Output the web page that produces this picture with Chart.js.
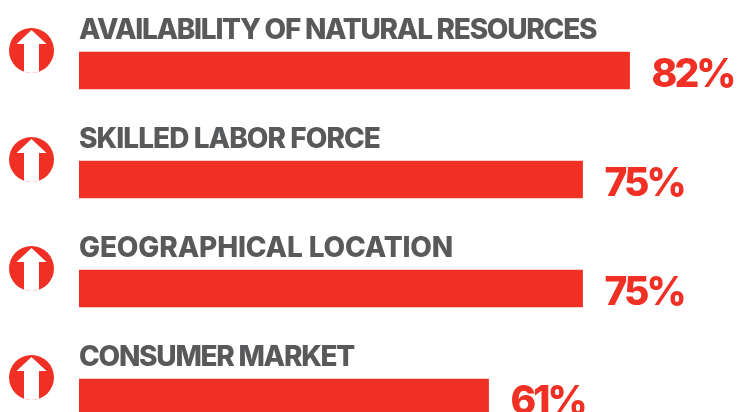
<!DOCTYPE html>
<html><head><meta charset="utf-8">
<style>html,body{margin:0;padding:0;background:#fff;overflow:hidden}#w{width:737px;height:412px;overflow:hidden}canvas{display:block}</style>
<script src="https://cdn.jsdelivr.net/npm/chart.js@4"></script></head>
<body><div id="w"><canvas id="c" width="737" height="452"></canvas></div>
<script>
const categories = ["AVAILABILITY OF NATURAL RESOURCES","SKILLED LABOR FORCE","GEOGRAPHICAL LOCATION","CONSUMER MARKET"];
const values = [82,75,75,61];
const labelSpacing = ["-1.27px","-0.95px","-0.15px","-1.27px"];
const RED = "#F03024", GREY = "#58595B";
const overlay = {
  id:"overlay",
  afterDatasetsDraw(chart){
    const {ctx,scales:{x,y}} = chart;
    ctx.save();
    ctx.textAlign="left"; ctx.textBaseline="alphabetic";
    categories.forEach((cat,i)=>{
      const cy = y.getPixelForValue(i), end = x.getPixelForValue(values[i]);
      ctx.fillStyle=GREY; ctx.font='800 28px "Inter"'; ctx.letterSpacing=labelSpacing[i];
      ctx.fillText(cat,x.left,cy-31.5);
      ctx.fillStyle=RED; ctx.font='800 39px "Inter"'; ctx.letterSpacing="-3px";
      ctx.fillText(values[i]+"%",end+22,cy+16);
      ctx.letterSpacing="0px";
      const ax=31.5, ay=cy-20;
      ctx.save();
      ctx.beginPath(); ctx.arc(ax,ay,22.5,0,Math.PI*2); ctx.clip();
      ctx.fillStyle=RED; ctx.fillRect(ax-23,ay-23,46,46);
      ctx.fillStyle="#fff"; ctx.beginPath();
      ctx.moveTo(ax,ay-20.5); ctx.lineTo(ax+15,ay-6.5); ctx.lineTo(ax+7.5,ay-6.5);
      ctx.lineTo(ax+7.5,ay+24); ctx.lineTo(ax-7.5,ay+24); ctx.lineTo(ax-7.5,ay-6.5);
      ctx.lineTo(ax-15,ay-6.5); ctx.closePath(); ctx.fill();
      ctx.restore();
    });
    ctx.restore();
  }
};
new Chart(document.getElementById("c"),{
  type:"bar",
  data:{labels:categories,datasets:[{data:values,backgroundColor:RED,barThickness:37,borderWidth:0}]},
  options:{
    indexAxis:"y",responsive:false,animation:false,
    layout:{padding:{left:79,right:0,top:16,bottom:0}},
    plugins:{legend:{display:false},tooltip:{enabled:false}},
    scales:{
      x:{display:false,min:0,max:98,grid:{display:false}},
      y:{display:false,grid:{display:false}}
    }
  },
  plugins:[overlay]
});
</script></body></html>
